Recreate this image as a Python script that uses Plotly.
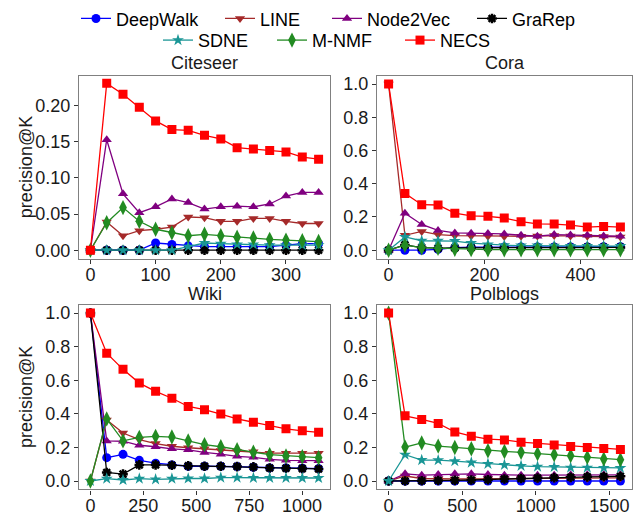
import plotly.graph_objects as go

# ---------------- data ----------------
methods = ["DeepWalk", "LINE", "Node2Vec", "GraRep", "SDNE", "M-NMF", "NECS"]

citeseer_k = [0, 25, 50, 75, 100, 125, 150, 175, 200, 225, 250, 275, 300, 325, 350]
cora_k = [0, 34, 69, 103, 138, 172, 207, 241, 276, 310, 345, 379, 414, 448, 483]
wiki_k = [0, 77, 154, 231, 308, 385, 462, 539, 616, 693, 770, 847, 924, 1001, 1078]
polblogs_k = [0, 112, 225, 337, 450, 562, 675, 787, 900, 1012, 1125, 1237, 1350, 1462, 1575]

citeseer = {
    "DeepWalk": [0, 0, 0, 0, 0.010, 0.008, 0.006, 0.005, 0.005, 0.005, 0.004, 0.005, 0.007, 0.009, 0.009],
    "LINE":     [0, 0.039, 0.020, 0.027, 0.029, 0.032, 0.046, 0.045, 0.040, 0.040, 0.044, 0.044, 0.040, 0.037, 0.037],
    "Node2Vec": [0, 0.153, 0.078, 0.052, 0.060, 0.071, 0.066, 0.057, 0.060, 0.061, 0.060, 0.064, 0.075, 0.080, 0.080],
    "GraRep":   [0, 0, 0, 0, 0, 0, 0, 0, 0, 0, 0, 0, 0, 0, 0],
    "SDNE":     [0, 0, 0, 0, 0, 0, 0.005, 0.010, 0.009, 0.008, 0.008, 0.007, 0.007, 0.007, 0.007],
    "M-NMF":    [0, 0.038, 0.059, 0.040, 0.029, 0.024, 0.020, 0.022, 0.020, 0.018, 0.017, 0.015, 0.014, 0.013, 0.012],
    "NECS":     [0, 0.231, 0.216, 0.198, 0.179, 0.167, 0.166, 0.159, 0.154, 0.142, 0.140, 0.138, 0.136, 0.129, 0.126],
}
cora = {
    "DeepWalk": [0, 0, 0, 0.005, 0.015, 0.018, 0.018, 0.019, 0.020, 0.020, 0.020, 0.020, 0.020, 0.021, 0.021],
    "LINE":     [1.0, 0.090, 0.113, 0.094, 0.088, 0.086, 0.084, 0.082, 0.084, 0.086, 0.088, 0.086, 0.084, 0.082, 0.080],
    "Node2Vec": [0, 0.223, 0.155, 0.119, 0.104, 0.102, 0.100, 0.098, 0.090, 0.084, 0.094, 0.092, 0.090, 0.086, 0.084],
    "GraRep":   [0, 0.032, 0.016, 0.012, 0.014, 0.015, 0.015, 0.015, 0.015, 0.016, 0.016, 0.016, 0.017, 0.017, 0.017],
    "SDNE":     [0, 0.080, 0.057, 0.057, 0.055, 0.043, 0.035, 0.030, 0.028, 0.028, 0.027, 0.026, 0.026, 0.025, 0.025],
    "M-NMF":    [0, 0.030, 0.015, 0.012, 0.006, 0.004, 0.003, 0.003, 0.003, 0.003, 0.003, 0.003, 0.003, 0.003, 0.003],
    "NECS":     [1.0, 0.342, 0.274, 0.272, 0.223, 0.207, 0.204, 0.194, 0.172, 0.158, 0.157, 0.151, 0.139, 0.143, 0.139],
}
wiki = {
    "DeepWalk": [1.0, 0.139, 0.159, 0.123, 0.106, 0.096, 0.088, 0.088, 0.088, 0.086, 0.082, 0.078, 0.078, 0.076, 0.074],
    "LINE":     [0, 0.364, 0.286, 0.247, 0.223, 0.207, 0.198, 0.192, 0.182, 0.176, 0.174, 0.166, 0.166, 0.166, 0.166],
    "Node2Vec": [1.0, 0.239, 0.237, 0.213, 0.204, 0.192, 0.186, 0.170, 0.160, 0.147, 0.141, 0.129, 0.123, 0.121, 0.121],
    "GraRep":   [1.0, 0.051, 0.041, 0.096, 0.096, 0.094, 0.090, 0.088, 0.088, 0.086, 0.084, 0.078, 0.076, 0.074, 0.072],
    "SDNE":     [0, 0.014, 0.006, 0.014, 0.010, 0.014, 0.015, 0.015, 0.020, 0.020, 0.019, 0.019, 0.019, 0.018, 0.018],
    "M-NMF":    [0, 0.370, 0.239, 0.260, 0.266, 0.262, 0.239, 0.217, 0.204, 0.186, 0.172, 0.157, 0.149, 0.145, 0.139],
    "NECS":     [1.0, 0.761, 0.665, 0.583, 0.534, 0.493, 0.444, 0.425, 0.399, 0.370, 0.350, 0.331, 0.311, 0.299, 0.290],
}
polblogs = {
    "DeepWalk": [0, 0, 0, 0, 0, 0, 0, 0, 0, 0, 0, 0, 0, 0, 0],
    "LINE":     [0, 0.030, 0.015, 0.012, 0.012, 0.012, 0.013, 0.013, 0.014, 0.014, 0.015, 0.016, 0.017, 0.018, 0.019],
    "Node2Vec": [0, 0.043, 0.035, 0.039, 0.043, 0.043, 0.039, 0.035, 0.035, 0.035, 0.035, 0.037, 0.037, 0.037, 0.037],
    "GraRep":   [0, 0, 0.002, 0.003, 0.004, 0.006, 0.008, 0.012, 0.015, 0.018, 0.020, 0.022, 0.025, 0.027, 0.028],
    "SDNE":     [0, 0.157, 0.125, 0.124, 0.118, 0.110, 0.102, 0.096, 0.090, 0.086, 0.084, 0.080, 0.080, 0.078, 0.078],
    "M-NMF":    [1.0, 0.202, 0.227, 0.208, 0.200, 0.192, 0.180, 0.176, 0.171, 0.163, 0.157, 0.151, 0.141, 0.131, 0.127],
    "NECS":     [1.0, 0.388, 0.367, 0.343, 0.292, 0.267, 0.249, 0.245, 0.231, 0.224, 0.214, 0.206, 0.200, 0.194, 0.188],
}

titles = ["Citeseer", "Cora", "Wiki", "Polblogs"]

# ---------------- styles ----------------
colors = {"DeepWalk": "#0000FF", "LINE": "#A52A2A", "Node2Vec": "#800080", "GraRep": "#000000",
          "SDNE": "#1A9696", "M-NMF": "#228B22", "NECS": "#FF0000"}
symbols = {"DeepWalk": "circle", "LINE": "triangle-down", "Node2Vec": "triangle-up",
           "GraRep": "asterisk-open", "SDNE": "star", "M-NMF": "diamond-tall", "NECS": "square"}
sizes = {"DeepWalk": 9, "LINE": 9, "Node2Vec": 9, "GraRep": 8, "SDNE": 9, "M-NMF": 11, "NECS": 9}

# legend entry positions (left of symbol line, row centre), in pixels
legend_pos = {"DeepWalk": (81, 13), "LINE": (225, 13), "Node2Vec": (332, 13), "GraRep": (477, 13),
              "SDNE": (163, 35), "M-NMF": (277, 35), "NECS": (405, 35)}

FONT = "Arial, Liberation Sans, sans-serif"
W, H = 639, 516

panels = [
    (citeseer_k, citeseer, "x", "y"),
    (cora_k, cora, "x2", "y2"),
    (wiki_k, wiki, "x3", "y3"),
    (polblogs_k, polblogs, "x4", "y4"),
]

legend_ids = {m: ("legend" if i == 0 else "legend%d" % (i + 1)) for i, m in enumerate(methods)}

fig = go.Figure()
for pi, (kk, data, xa, ya) in enumerate(panels):
    for m in methods:
        mk = dict(symbol=symbols[m], size=sizes[m], color=colors[m])
        if m == "GraRep":
            mk["line"] = dict(width=2.5, color=colors[m])
        else:
            mk["line"] = dict(width=0)
        fig.add_trace(go.Scatter(
            x=kk, y=data[m], mode="lines+markers", name=m,
            line=dict(color=colors[m], width=1.3), marker=mk,
            xaxis=xa, yaxis=ya, legendgroup=m, showlegend=(pi == 0),
            legend=legend_ids[m],
        ))

# domains (pixel -> paper)
def px_x(a, b):
    return [a / W, b / W]

def px_y(top, bottom):
    return [(H - bottom) / H, (H - top) / H]

xd_left, xd_right = px_x(79, 330), px_x(377, 632)
yd_top, yd_bot = px_y(71, 257), px_y(304, 492)

axis_common = dict(showline=True, linecolor="#808080", linewidth=1.2, mirror=True,
                   ticks="outside", ticklen=4, tickcolor="#333333", tickwidth=1,
                   showgrid=False, zeroline=False,
                   tickfont=dict(family=FONT, size=18, color="#1a1a1a"))
xaxis_common = dict(ticklabelstandoff=-4, **axis_common)

fig.update_layout(
    xaxis=dict(domain=xd_left, anchor="y", range=[-17.5, 367.5], tickvals=[0, 100, 200, 300], **xaxis_common),
    yaxis=dict(domain=yd_top, anchor="x", range=[-0.0115, 0.2415], tickvals=[0, 0.05, 0.10, 0.15, 0.20],
               tickformat=".2f", **axis_common),
    xaxis2=dict(domain=xd_right, anchor="y2", range=[-24.15, 507.15], tickvals=[0, 200, 400], **xaxis_common),
    yaxis2=dict(domain=yd_top, anchor="x2", range=[-0.05, 1.05], tickvals=[0, 0.2, 0.4, 0.6, 0.8, 1.0],
                tickformat=".1f", **axis_common),
    xaxis3=dict(domain=xd_left, anchor="y3", range=[-53.9, 1131.9], tickvals=[0, 250, 500, 750, 1000], **xaxis_common),
    yaxis3=dict(domain=yd_bot, anchor="x3", range=[-0.05, 1.05], tickvals=[0, 0.2, 0.4, 0.6, 0.8, 1.0],
                tickformat=".1f", **axis_common),
    xaxis4=dict(domain=xd_right, anchor="y4", range=[-78.75, 1653.75], tickvals=[0, 500, 1000, 1500], **xaxis_common),
    yaxis4=dict(domain=yd_bot, anchor="x4", range=[-0.05, 1.05], tickvals=[0, 0.2, 0.4, 0.6, 0.8, 1.0],
                tickformat=".1f", **axis_common),
)

annotations = []
title_pos = [((79 + 330) / 2, 58), ((377 + 632) / 2, 58), ((79 + 330) / 2, 293), ((377 + 632) / 2, 293)]
for t, (cx, cy) in zip(titles, title_pos):
    annotations.append(dict(text=t, x=cx / W, y=(H - cy) / H, xref="paper", yref="paper",
                            xanchor="center", yanchor="middle", showarrow=False,
                            font=dict(family=FONT, size=18, color="#1a1a1a")))
for cy in [(71 + 257) / 2, (304 + 492) / 2]:
    annotations.append(dict(text="precision@K", x=26 / W, y=(H - cy) / H, xref="paper", yref="paper",
                            xanchor="center", yanchor="middle", textangle=-90, showarrow=False,
                            font=dict(family=FONT, size=18, color="#1a1a1a")))

legends = {}
for m in methods:
    lx, ly = legend_pos[m]
    legends[legend_ids[m]] = dict(
        orientation="h", xanchor="left", yanchor="middle",
        x=(lx - 5) / W, y=(H - ly) / H,
        font=dict(family=FONT, size=18, color="#000000"), bgcolor="rgba(0,0,0,0)",
        borderwidth=0, itemwidth=30,
    )

fig.update_layout(
    annotations=annotations,
    width=W, height=H,
    margin=dict(l=0, r=0, t=0, b=0),
    paper_bgcolor="white", plot_bgcolor="white",
    font=dict(family=FONT, size=18, color="#1a1a1a"),
    **legends,
)

fig.write_html("out.html", config={"displayModeBar": False},
               post_script="document.body.style.margin='0';document.body.style.padding='0';")
